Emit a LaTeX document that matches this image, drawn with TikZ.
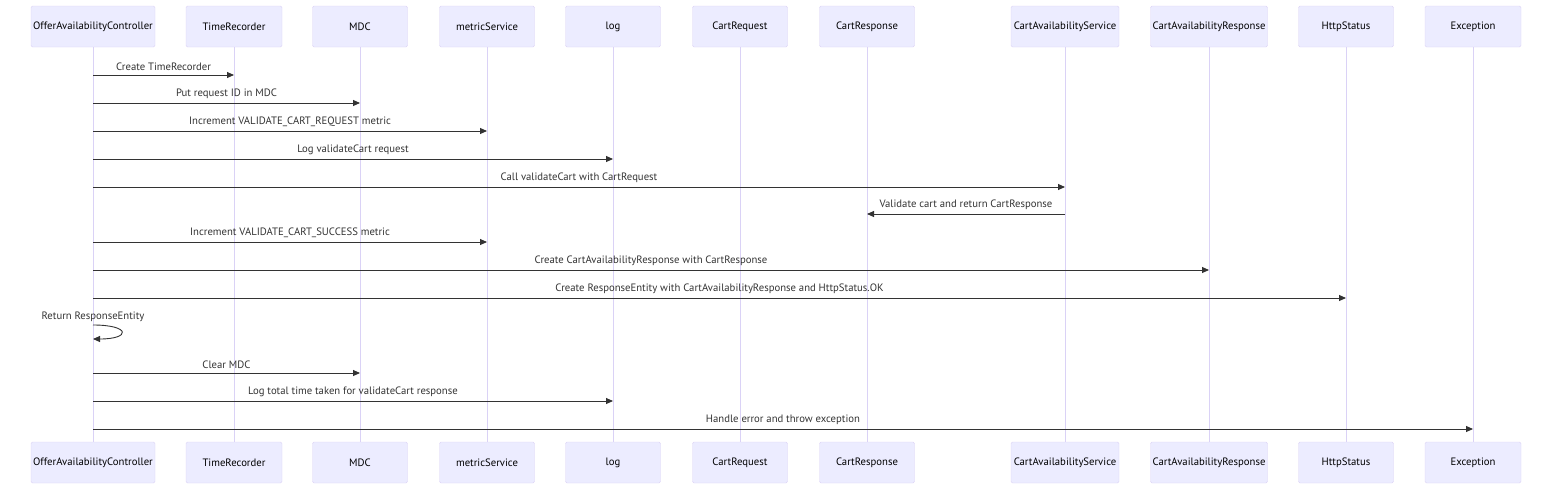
\documentclass[tikz,border=0pt]{standalone}
\usepackage{fontspec}
\setmainfont{PT Sans}
\usetikzlibrary{arrows.meta}
\definecolor{actorfill}{HTML}{ECECFF}
\definecolor{actorline}{HTML}{DCD3F5}
\definecolor{lifecol}{HTML}{DAD2F6}
\definecolor{msgcol}{HTML}{333333}
\tikzset{
	actor/.style={draw=actorline, fill=actorfill, rounded corners=1.5pt, minimum height=41pt, inner sep=2pt, font=\fontsize{10.7}{12}\selectfont},
	lifeline/.style={draw=lifecol, line width=0.9pt},
	msg/.style={draw=msgcol, line width=0.9pt, -{Triangle[length=7pt,width=6pt]}},
	msgtext/.style={font=\fontsize{10.7}{12}\selectfont, text=msgcol, inner sep=0pt},
	msglabel/.style={msgtext, above=4pt},
}
\begin{document}
\begin{tikzpicture}[x=1pt,y=-1pt]
	\useasboundingbox (0,0) rectangle (1568,496);
	% actors, top and bottom, joined by their lifelines
	\foreach \n/\x/\w/\t in {oac/93/124/OfferAvailabilityController, tr/234/96/TimeRecorder, mdc/360/95/MDC, ms/487/95/metricService, log/613/95/log, creq/740/95/CartRequest, cres/867/95/CartResponse, cas/1065/108/CartAvailabilityService, car/1209/117/CartAvailabilityResponse, http/1346/95/HttpStatus, exc/1473/96/Exception}
	{
		\node[actor, minimum width=\w pt] (\n T) at (\x,26.5) {\t};
		\node[actor, minimum width=\w pt] (\n B) at (\x,462.5) {\t};
		\draw[lifeline] (\n T) -- (\n B);
	}
	% messages
	\foreach \y/\a/\b/\t in {75/oac/tr/Create TimeRecorder, 103/oac/mdc/Put request ID in MDC, 131/oac/ms/Increment VALIDATE\_CART\_REQUEST metric, 159/oac/log/Log validateCart request, 187/oac/cas/Call validateCart with CartRequest, 214/cas/cres/Validate cart and return CartResponse, 242/oac/ms/Increment VALIDATE\_CART\_SUCCESS metric, 270/oac/car/Create CartAvailabilityResponse with CartResponse, 298/oac/http/Create ResponseEntity with CartAvailabilityResponse and HttpStatus.OK, 373/oac/mdc/Clear MDC, 401/oac/log/Log total time taken for validateCart response, 429/oac/exc/Handle error and throw exception}
	{
		\draw[msg] (\a T |- 0,\y) -- node[msglabel] {\t} (\b T |- 0,\y);
	}
	% self message
	\coordinate (ret1) at (oacT |- 0,325);
	\coordinate (ret2) at (oacT |- 0,339);
	\draw[msg] (ret1) .. controls +(38,0) and +(38,0) .. (ret2);
	\node[msgtext] (retlabel) at (oacT |- 0,317) {Return ResponseEntity};
\end{tikzpicture}
\end{document}
